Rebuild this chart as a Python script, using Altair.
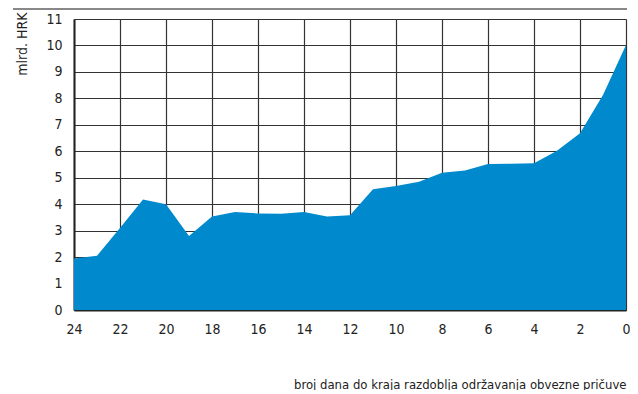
import altair as alt
import pandas as pd

days = [24, 23, 22, 21, 20, 19, 18, 17, 16, 15, 14, 13, 12, 11, 10, 9, 8, 7, 6, 5, 4, 3, 2, 1, 0]
values = [1.95, 2.05, 3.1, 4.18, 4.0, 2.8, 3.53, 3.7, 3.65, 3.64, 3.7, 3.53, 3.58, 4.56, 4.69, 4.85, 5.19, 5.27, 5.52, 5.53, 5.55, 6.02, 6.68, 8.13, 10.02]
x_ticks = [24, 22, 20, 18, 16, 14, 12, 10, 8, 6, 4, 2, 0]
y_ticks = list(range(0, 12))

df = pd.DataFrame({"day": days, "value": values})
FONT = "'DejaVu Sans Condensed', Roboto, sans-serif"

xscale = alt.Scale(domain=[24, 0], nice=False, zero=False)
yscale = alt.Scale(domain=[0, 11], nice=False)

area = alt.Chart(df).mark_area(color="#008ACD", opacity=1, interpolate="linear").encode(
    x=alt.X("day:Q", scale=xscale,
            axis=alt.Axis(values=x_ticks, grid=True, gridColor="#333", gridWidth=1.2,
                          gridOpacity=1, ticks=False,
                          domain=True, domainColor="#222", domainWidth=2,
                          labelFont=FONT, labelFontSize=14, labelColor="#222",
                          labelPadding=12, labelOverlap=False, labelBound=False,
                          labelFlush=False,
                          title="broj dana do kraja razdoblja održavanja obvezne pričuve",
                          titleFont=FONT, titleFontSize=13, titleFontWeight="normal",
                          titleColor="#222", titleAlign="right", titleBaseline="middle",
                          titleX=552, titleY=74)),
    y=alt.Y("value:Q", scale=yscale,
            axis=alt.Axis(values=y_ticks, grid=True, gridColor="#333", gridWidth=1.2,
                          gridOpacity=1, ticks=False,
                          domain=True, domainColor="#222", domainWidth=2,
                          labelFont=FONT, labelFontSize=14, labelColor="#222",
                          labelPadding=12, labelOverlap=False, labelBound=False,
                          labelFlush=False,
                          title="mlrd. HRK", titleFont=FONT, titleFontSize=14,
                          titleFontWeight="normal", titleColor="#222",
                          titleAlign="right", titleBaseline="middle",
                          titleX=-52, titleY=-7)),
)

top_line = alt.Chart(pd.DataFrame({"a": [0]})).mark_rule(color="#888", strokeWidth=2).encode(
    x=alt.value(-61), x2=alt.value(553), y=alt.value(-10)
)

chart = alt.layer(area, top_line).properties(
    width=552, height=291,
    padding={"left": 66, "top": 11, "right": 4, "bottom": 80},
    autosize=alt.AutoSizeParams(type="none"),
).configure_view(stroke=None).configure(background="white")

chart.save("out.html", embed_options={"renderer": "svg", "actions": False})
